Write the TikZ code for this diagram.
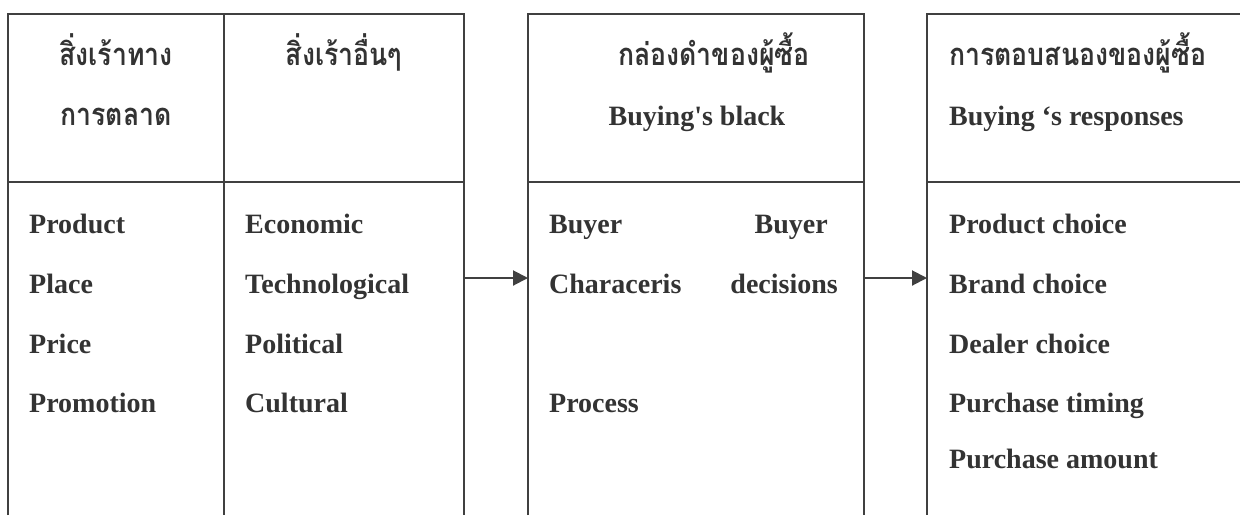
\documentclass[tikz,border=0pt]{standalone}
\usepackage{fontspec}
\newfontfamily\lat{Liberation Serif}
\newfontfamily\thaifont[Script=Thai]{Loma}
\usetikzlibrary{arrows.meta}
\definecolor{ink}{HTML}{333333}
\definecolor{rulec}{HTML}{404040}
\newcommand{\thaitxt}[1]{\scalebox{0.86}[1]{#1}}
\begin{document}
\begin{tikzpicture}[x=1pt,y=-1pt,
  frame/.style={draw=rulec,line width=2pt},
  body/.style={anchor=base west,inner sep=0pt,text=ink,font=\fontsize{28}{32}\selectfont\lat\bfseries},
  bodyr/.style={body,anchor=base east},
  latc/.style={body,anchor=base},
  thai/.style={anchor=base,inner sep=0pt,text=ink,font=\fontsize{31}{34}\selectfont\thaifont\bfseries},
  thail/.style={thai,anchor=base west},
  flow/.style={draw=rulec,line width=2pt,-{Triangle[length=15pt,width=15pt]}}]
\useasboundingbox (0,0) rectangle (1240,515);
\fill[white] (0,0) rectangle (1240,515);
% frames
\draw[frame] (8,515) -- (8,14) -- (464,14) -- (464,515);
\draw[frame] (224,14) -- (224,515);
\draw[frame] (8,182) -- (464,182);
\draw[frame] (528,515) -- (528,14) -- (864,14) -- (864,515);
\draw[frame] (528,182) -- (864,182);
\draw[frame] (1240,14) -- (927,14) -- (927,515);
\draw[frame] (927,182) -- (1240,182);
% connector end points on the box edges
\coordinate (aR) at (464,278);
\coordinate (bL) at (528,278);
\coordinate (bR) at (864,278);
\coordinate (cL) at (927,278);
\draw[flow] (aR) -- (bL);
\draw[flow] (bR) -- (cL);
% headers
\node[thai] (h1a) at (116,65) {\thaitxt{สิ่งเร้าทาง}};
\node[thai] (h1b) at (116,125) {\thaitxt{การตลาด}};
\node[thai] (h2a) at (344,65) {\thaitxt{สิ่งเร้าอื่นๆ}};
\node[thai] (h3a) at (714,65) {\thaitxt{กล่องดำของผู้ซื้อ}};
\node[latc] (h3b) at (697,125) {Buying's black};
\node[thail] (h4a) at (949,65) {\thaitxt{การตอบสนองของผู้ซื้อ}};
\node[body] (h4b) at (949,125) {Buying ‘s responses};
% column 1
\node[body] (p1) at (29,233) {Product};
\node[body] (p2) at (29,293) {Place};
\node[body] (p3) at (29,353) {Price};
\node[body] (p4) at (29,412) {Promotion};
% column 2
\node[body] (e1) at (245,233) {Economic};
\node[body] (e2) at (245,293) {Technological};
\node[body] (e3) at (245,353) {Political};
\node[body] (e4) at (245,412) {Cultural};
% black box
\node[body] (b1) at (549,233) {Buyer};
\node[bodyr] (b2) at (828,233) {Buyer};
\node[body] (b3) at (549,293) {Characeris};
\node[bodyr] (b4) at (838,293) {decisions};
\node[body] (b5) at (549,412) {Process};
% responses
\node[body] (r1) at (949,233) {Product choice};
\node[body] (r2) at (949,293) {Brand choice};
\node[body] (r3) at (949,353) {Dealer choice};
\node[body] (r4) at (949,412) {Purchase timing};
\node[body] (r5) at (949,468) {Purchase amount};
\end{tikzpicture}
\end{document}
